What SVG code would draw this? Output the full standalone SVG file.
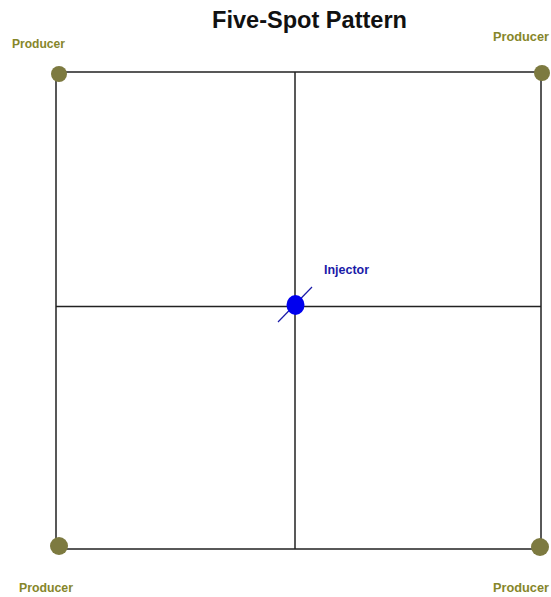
<svg xmlns="http://www.w3.org/2000/svg" width="551" height="597" viewBox="0 0 551 597">
<style>
.grid{stroke:#222;stroke-width:1.5;fill:none}
.prod{fill:#7d7a40}
.plabel{font-family:"Liberation Sans",Arial,sans-serif;font-weight:bold;font-size:12px;fill:#86862a}
.title{font-family:"Liberation Sans",Arial,sans-serif;font-weight:bold;font-size:23px;fill:#111}
.ilabel{font-family:"Liberation Sans",Arial,sans-serif;font-weight:bold;font-size:12px;fill:#1a1aa8}
</style>
<rect width="551" height="597" fill="#fff"/>
<text class="title" x="212" y="28" textLength="195" lengthAdjust="spacingAndGlyphs">Five-Spot Pattern</text>
<g id="connectors">
<rect class="grid" x="56" y="72" width="485" height="477"/>
<line class="grid" x1="295" y1="72" x2="295" y2="549"/>
<line class="grid" x1="56" y1="306.5" x2="541" y2="306.5"/>
</g>
<g id="producer-tl"><circle class="prod" cx="59" cy="74" r="8"/><text class="plabel" x="12" y="48" textLength="53" lengthAdjust="spacingAndGlyphs">Producer</text></g>
<g id="producer-tr"><circle class="prod" cx="542" cy="73" r="8"/><text class="plabel" x="493" y="41" textLength="56" lengthAdjust="spacingAndGlyphs">Producer</text></g>
<g id="producer-bl"><circle class="prod" cx="59" cy="546" r="9"/><text class="plabel" x="19" y="592" textLength="54" lengthAdjust="spacingAndGlyphs">Producer</text></g>
<g id="producer-br"><circle class="prod" cx="540" cy="547" r="9"/><text class="plabel" x="493" y="592" textLength="56" lengthAdjust="spacingAndGlyphs">Producer</text></g>
<g id="injector">
<line x1="278" y1="322" x2="312" y2="287" stroke="#1a1aa8" stroke-width="1.2"/>
<ellipse cx="295.5" cy="305" rx="9" ry="10" fill="#0000ee"/>
<text class="ilabel" x="324" y="274" textLength="45" lengthAdjust="spacingAndGlyphs">Injector</text>
</g>
</svg>
